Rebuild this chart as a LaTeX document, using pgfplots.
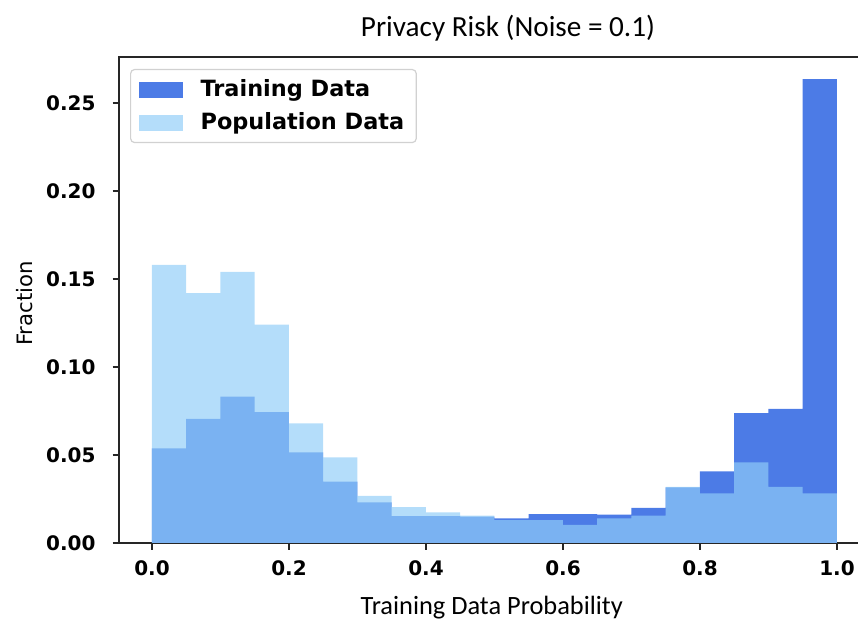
\documentclass[border=0pt]{standalone}
\usepackage{fontspec}
\setmainfont{Carlito}
\newfontfamily\dejavu{DejaVu Sans}
\usepackage{pgfplots}
\pgfplotsset{compat=1.18}
\definecolor{traincol}{RGB}{76,123,230}
\definecolor{popcol}{RGB}{145,205,248}
\begin{document}
\begin{tikzpicture}
\begin{axis}[
  x=342.5pt, y=880pt,
  xmin=-0.048, xmax=1.05,
  ymin=0, ymax=0.2761,
  axis line style={line width=0.9pt, black!85},
  tick style={line width=0.9pt, black!85},
  tick align=outside,
  major tick length=3.3pt,
  xtick pos=bottom, ytick pos=left,
  xtick={0,0.2,0.4,0.6,0.8,1.0},
  ytick={0,0.05,0.1,0.15,0.2,0.25},
  /pgf/number format/assume math mode=true,
  xticklabel style={/pgf/number format/.cd, fixed, fixed zerofill, precision=1, /tikz/.cd, yshift=-2pt},
  yticklabel style={/pgf/number format/.cd, fixed, fixed zerofill, precision=2, /tikz/.cd, xshift=-5pt},
  ticklabel style={font=\dejavu\bfseries\fontsize{10}{12}\selectfont},
  scaled y ticks=false,
  every axis title shift=0pt,
  title={Privacy Risk (Noise = 0.1)},
  title style={font=\fontsize{14.6}{17}\selectfont, at={(axis description cs:0.517,1.06)}, anchor=center},
  xlabel={Training Data Probability},
  xlabel style={font=\fontsize{13.2}{15}\selectfont, at={(axis description cs:0.4954,-0.1336)}, anchor=center},
  ylabel={Fraction},
  ylabel style={font=\dejavu\fontsize{10.6}{12}\selectfont, at={(axis description cs:-0.1251,0.4926)}, anchor=center},
  legend cell align=left,
  legend style={at={(axis description cs:0.0145,0.9755)}, anchor=north west,
    draw=black!18, rounded corners=2pt, fill=white, line width=0.6pt,
    font=\dejavu\bfseries\fontsize{11.2}{13}\selectfont,
    inner xsep=4pt, inner ysep=3pt, row sep=2.5pt},
  legend image code/.code={\path[#1, draw=none, sharp corners] (0pt,-4pt) rectangle (22pt,4pt); \path (29pt,0pt);},
]
\addplot[ybar interval, fill=traincol, draw=none] coordinates {
(0.00,0.0538) (0.05,0.0705) (0.10,0.0831) (0.15,0.0743) (0.20,0.0515)
(0.25,0.0348) (0.30,0.0230) (0.35,0.0152) (0.40,0.0152) (0.45,0.0150)
(0.50,0.0140) (0.55,0.0164) (0.60,0.0164) (0.65,0.0161) (0.70,0.0200)
(0.75,0.0316) (0.80,0.0406) (0.85,0.0737) (0.90,0.0762) (0.95,0.2636)
(1.00,0.2636)};
\addlegendentry{Training Data}
\addplot[ybar interval, fill=popcol, fill opacity=0.68, draw=none] coordinates {
(0.00,0.1580) (0.05,0.1420) (0.10,0.1540) (0.15,0.1240) (0.20,0.0680)
(0.25,0.0486) (0.30,0.0268) (0.35,0.0204) (0.40,0.0174) (0.45,0.0155)
(0.50,0.0130) (0.55,0.0130) (0.60,0.0103) (0.65,0.0140) (0.70,0.0155)
(0.75,0.0318) (0.80,0.0282) (0.85,0.0458) (0.90,0.0318) (0.95,0.0282)
(1.00,0.0282)};
\addlegendentry{Population Data}
\coordinate (bbSW) at (axis cs:-0.2219,-0.0472);
\coordinate (bbNE) at (axis cs:1.0307,0.3085);
\end{axis}
\pgfresetboundingbox
\useasboundingbox (bbSW) rectangle (bbNE);
\end{tikzpicture}
\end{document}
